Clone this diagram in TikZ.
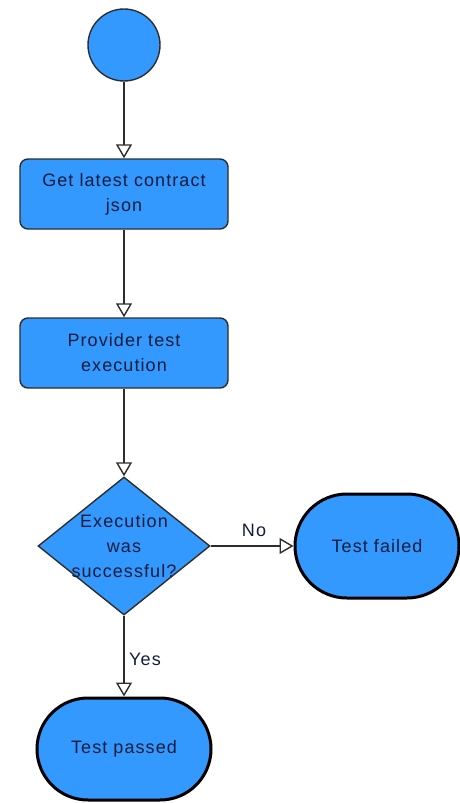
\documentclass[tikz,border=0pt]{standalone}
\usepackage{fontspec}
\setmainfont{Liberation Sans}[LetterSpace=6]
\usetikzlibrary{shapes.geometric,arrows.meta}
\definecolor{flowblue}{RGB}{51,153,255}
\definecolor{flowtext}{RGB}{20,28,60}
\definecolor{flowline}{RGB}{45,45,45}

\begin{document}
\begin{tikzpicture}[x=1pt, y=-1pt,
    step box/.style={draw=flowline, line width=1.4pt, fill=flowblue, rounded corners=8pt,
        minimum width=208pt, minimum height=70pt, align=center, text=flowtext},
    end box/.style={draw=black, line width=3pt, fill=flowblue, text=flowtext},
    decision/.style={draw=flowline, line width=1.4pt, fill=flowblue, diamond,
        minimum width=172pt, minimum height=138pt, inner sep=0pt},
    flow/.style={-{Triangle[length=14pt, width=16pt, fill=white]}, draw=flowline, line width=1.4pt},
    every node/.style={font=\fontsize{18}{25}\selectfont}]
    \useasboundingbox (0,0) rectangle (459,803);

    % Blocks
    \node[draw=flowline, line width=1.4pt, fill=flowblue, circle, minimum size=72pt, inner sep=0pt] (start) at (124,45) {};
    \node[step box] (fetch) at (124,194) {Get latest contract\\json};
    \node[step box] (provider) at (124,353) {Provider test\\execution};
    \node[decision] (check) at (124,546) {};
    \node[align=center, text=flowtext] (checktext) at (check.center) {Execution\\was\\successful?};
    \node[end box, rounded corners=52pt, minimum width=164pt, minimum height=104pt] (failed) at (377,546) {Test failed};
    \node[end box, rounded corners=51pt, minimum width=174pt, minimum height=102pt] (passed) at (124,749) {Test passed};

    % Connections
    \draw[flow] (start) -- (fetch);
    \draw[flow] (fetch) -- (provider);
    \draw[flow] (provider) -- (check.north);
    \draw[flow] (check.east) -- (failed.west);
    \draw[flow] (check.south) -- (passed.north);

    % Labels
    \node[text=flowtext] (nolabel) at (254,530) {No};
    \node[text=flowtext] (yeslabel) at (145,659) {Yes};
\end{tikzpicture}
\end{document}
